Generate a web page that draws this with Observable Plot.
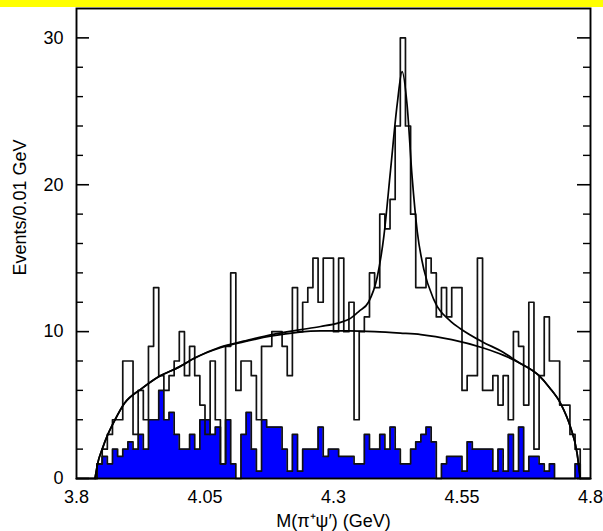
<!DOCTYPE html>
<html><head><meta charset="utf-8">
<script src="https://cdn.jsdelivr.net/npm/d3@7"></script>
<script src="https://cdn.jsdelivr.net/npm/@observablehq/plot@0.6"></script>
<style>
body{margin:0;background:#fff;}
#band{height:7px;background:#ffff00;width:603px;}
#chart svg{display:block;}
</style></head><body>
<div id="band"></div>
<div id="chart"></div>
<script>
// Histogram binning (GeV)
const binStart = 3.8;
const binWidth = 0.01;
const binCount = 100;

// Total events per bin (open histogram)
const totalCounts = [
  0,0,0,0,1,2,3,4,4,8,
  8,3,6,4,9,13,7,6,7,8,
  10,7,9,7,5,3,8,4,1,9,
  14,6,8,8,7,4,9,9,10,10,
  9,7,13,10,12,13,15,12,15,15,
  10,15,10,12,4,10,11,14,13,18,
  17,19,24,30,24,18,13,13,15,14,
  11,13,11,13,13,6,7,7,15,6,
  6,7,5,7,4,10,9,5,12,2,
  7,11,8,8,5,5,3,2,0,0
];

// Background estimate per bin (blue histogram)
const bkgCounts = [
  0,0,0,0,1,1.5,1,2,1.5,2,
  2.5,2,3,2,4,4,6,4,4.5,3,
  2,2,3,2,4,4,3,3.5,1,4,
  1,0,3,4.5,2,0.5,4,3.5,3.5,3.5,
  2,0.5,3,0.5,2,2,2,3.5,1.5,2,
  2,1.5,1.5,1.5,1,1,3,2,2,3,
  2,3.5,2,1,1,2,2.5,3,3.5,2.5,
  0,1,1.5,1.5,1.5,0.5,2.5,2,2,2,
  2,0.5,2,0.5,3,0.5,3.5,0.5,1.5,1.5,
  1,0.5,1,0,0,0,0,1,0,0
];

// Fit curve: background only
const fitBkgX = [3.836,3.841,3.850,3.861,3.875,3.893,3.926,3.958,4.00,4.03,4.08,4.125,4.18,4.23,4.275,4.33,4.38,4.43,4.47,4.53,4.59,4.63,4.66,4.70,4.72,4.742,4.761,4.774,4.780];
const fitBkgY = [0,1.0,2.0,3.0,4.0,5.1,6.1,6.9,7.6,8.2,8.9,9.3,9.7,9.95,10.05,10.05,10.0,9.9,9.8,9.45,8.9,8.4,7.9,7.0,6.2,5.1,3.5,1.7,0];

// Fit curve: signal + background
const fitTotX = [3.836,3.841,3.850,3.861,3.875,3.893,3.926,3.958,4.00,4.03,4.08,4.125,4.18,4.23,4.275,4.31,4.333,4.35,4.368,4.385,4.398,4.411,4.424,4.4335,4.443,4.453,4.463,4.476,4.495,4.528,4.547,4.59,4.63,4.656,4.70,4.72,4.742,4.761,4.774,4.780];
const fitTotY = [0,1.0,2.0,3.0,4.0,5.1,6.1,6.9,7.6,8.2,8.95,9.35,9.8,10.1,10.35,10.6,10.9,11.4,12.0,13.7,16.5,21,25.5,27.7,25.5,20.5,16.8,14.2,12.2,10.7,10.2,9.3,8.6,8.0,7.0,6.2,5.1,3.5,1.7,0];

// Axis ticks and labels
const xTicks = [3.8, 4.05, 4.3, 4.55, 4.8];
const xTickLabels = ["3.8", "4.05", "4.3", "4.55", "4.8"];
const yMajor = [0, 10, 20, 30];
const yMinor = [2,4,6,8,12,14,16,18,22,24,26,28];
const xTitle = "M(\u03c0\u207a\u03c8\u2032) (GeV)";
const yTitle = "Events/0.01 GeV";

// Build step tables for the histograms
const edges = d3.range(binCount + 1).map(i => +(binStart + i * binWidth).toFixed(2));
const toStep = counts => [
  ...counts.map((c, i) => ({x: edges[i], y: c})),
  {x: edges[binCount], y: counts[binCount - 1]}
];
const totStep = toStep(totalCounts);
const bkgStep = toStep(bkgCounts);
const fitBkg = fitBkgX.map((x, i) => ({x, y: fitBkgY[i]}));
const fitTot = fitTotX.map((x, i) => ({x, y: fitTotY[i]}));

const W = 603, mL = 76, mR = 13;
const plotW = W - mL - mR;
const font = "'Liberation Sans', Arial, Helvetica, sans-serif";

const chart = Plot.plot({
  width: W,
  height: 524,
  marginLeft: mL,
  marginRight: mR,
  marginTop: 1,
  marginBottom: 53,
  style: {fontFamily: font, fontSize: "18px", background: "white", color: "black", overflow: "visible"},
  x: {domain: [3.8, 4.8], axis: null},
  y: {domain: [0, 32], axis: null},
  marks: [
    Plot.areaY(bkgStep, {x: "x", y: "y", curve: "step-after", fill: "#0000ff"}),
    Plot.lineY(bkgStep, {x: "x", y: "y", curve: "step-after", stroke: "#111", strokeWidth: 1.7}),
    Plot.lineY(totStep, {x: "x", y: "y", curve: "step-after", stroke: "#111", strokeWidth: 1.7}),
    Plot.line(fitBkg, {x: "x", y: "y", curve: "monotone-x", stroke: "black", strokeWidth: 1.7}),
    Plot.line(fitTot, {x: "x", y: "y", curve: "monotone-x", stroke: "black", strokeWidth: 1.7}),
    // inward ticks, left and right
    Plot.tickY(yMajor, {y: d => d, stroke: "black", strokeWidth: 1.6, insetRight: plotW - 13}),
    Plot.tickY(yMinor, {y: d => d, stroke: "black", strokeWidth: 1.4, insetRight: plotW - 7}),
    Plot.tickY(yMajor, {y: d => d, stroke: "black", strokeWidth: 1.6, insetLeft: plotW - 13}),
    Plot.tickY(yMinor, {y: d => d, stroke: "black", strokeWidth: 1.4, insetLeft: plotW - 7}),
    Plot.frame({stroke: "black", strokeWidth: 1.9}),
    Plot.axisY(yMajor, {tickSize: 0, tickPadding: 13, label: null, fontSize: 18}),
    Plot.axisX(xTicks, {tickSize: 0, tickPadding: 12, label: null, fontSize: 18,
      tickFormat: d => xTickLabels[xTicks.indexOf(d)]}),
    Plot.text([yTitle], {text: d => d, frameAnchor: "left", textAnchor: "middle", lineAnchor: "middle",
      rotate: -90, dx: -56, dy: -36, fontSize: 18}),
    Plot.text([xTitle], {text: d => d, frameAnchor: "bottom", textAnchor: "middle", lineAnchor: "middle",
      dy: 43, fontSize: 18})
  ]
});
document.getElementById("chart").appendChild(chart);
</script>
</body></html>
